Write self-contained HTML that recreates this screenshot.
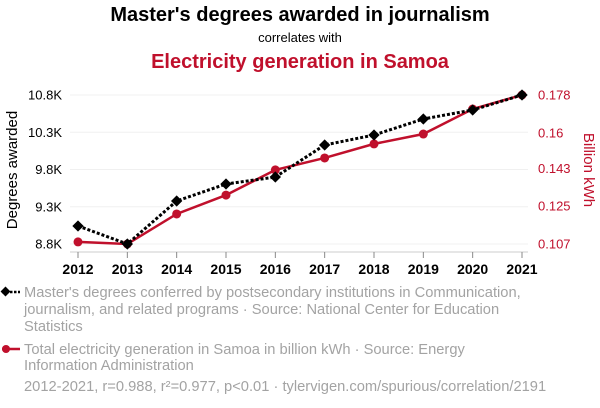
<!DOCTYPE html>
<html><head><meta charset="utf-8"><style>
body{margin:0;background:#fff;font-family:"Liberation Sans",Arial,sans-serif;}
svg{display:block}
</style></head><body>
<svg id="c" width="600" height="408">
<text x="300" y="21" text-anchor="middle" font-size="20" font-weight="bold" fill="#000">Master's degrees awarded in journalism</text>
<text x="300" y="42" text-anchor="middle" font-size="13" fill="#000">correlates with</text>
<text x="300" y="68" text-anchor="middle" font-size="20" font-weight="bold" fill="#c0102c">Electricity generation in Samoa</text>
<text transform="translate(17,170) rotate(-90)" text-anchor="middle" font-size="15" fill="#000">Degrees awarded</text>
<text transform="translate(584,170) rotate(90)" text-anchor="middle" font-size="15" fill="#c0102c">Billion kWh</text>
<g id="grid"></g><g id="axes"></g><g id="series"></g>
<g>
<line x1="2" y1="292" x2="20" y2="292" stroke="#000" stroke-width="2.5" stroke-dasharray="2.5,1.5"/>
<rect x="2" y="288" width="7" height="7" transform="rotate(45 5.5 291.5)" fill="#000"/>
<text font-size="14.7" fill="#a3a3a3"><tspan x="24" y="297">Master's degrees conferred by postsecondary institutions in Communication,</tspan><tspan x="24" y="314">journalism, and related programs · Source: National Center for Education</tspan><tspan x="24" y="331">Statistics</tspan></text>
</g>
<g>
<line x1="2" y1="349" x2="20" y2="349" stroke="#c0102c" stroke-width="2.5"/>
<circle cx="6" cy="349" r="4" fill="#c0102c"/>
<text font-size="14.7" fill="#a3a3a3"><tspan x="24" y="354">Total electricity generation in Samoa in billion kWh · Source: Energy</tspan><tspan x="24" y="370">Information Administration</tspan></text>
</g>
<text x="24" y="391" font-size="14.7" fill="#a3a3a3">2012-2021, r=0.988, r²=0.977, p&lt;0.01 · tylervigen.com/spurious/correlation/2191</text>
</svg>
<script>
const years=[2012,2013,2014,2015,2016,2017,2018,2019,2020,2021];
const degrees=[9042,8800,9377,9605,9699,10129,10263,10478,10599,10800];
const electricity=[0.108,0.107,0.1213,0.1303,0.1423,0.148,0.1547,0.1594,0.1713,0.178];
const leftTicks=[8800,9300,9800,10300,10800];
const leftTickLabels=["8.8K","9.3K","9.8K","10.3K","10.8K"];
const rightTicks=[0.107,0.125,0.143,0.16,0.178];
const rightTickLabels=["0.107","0.125","0.143","0.16","0.178"];
const NS="http://www.w3.org/2000/svg";
const x=y=>78+(y-2012)*(522-78)/9;
const yL=v=>244-(v-8800)*(149/2000);
const yR=v=>244-(v-0.107)*(149/0.071);
function mk(t,a,p){const e=document.createElementNS(NS,t);for(const k in a)e.setAttribute(k,a[k]);p.appendChild(e);return e;}
const grid=document.getElementById('grid'),axes=document.getElementById('axes'),ser=document.getElementById('series');
leftTicks.forEach((v,i)=>{
 const g=mk('line',{x1:70,x2:528,y1:yL(v),y2:yL(v),stroke:'#f0f0f0','stroke-width':1},grid);
 
 
 const t=mk('text',{x:62,y:yL(v)+4.5,'text-anchor':'end','font-size':13,fill:'#000'},axes);t.textContent=leftTickLabels[i];
 
 
});
rightTicks.forEach((v,i)=>{
 const t=mk('text',{x:538,y:yR(v)+4.5,'font-size':13,fill:'#c0102c'},axes);t.textContent=rightTickLabels[i];
 
 
});
const ax=mk('line',{x1:70,x2:528,y1:252,y2:252,stroke:'#ccc'},axes);


years.forEach(yr=>{
 mk('line',{x1:x(yr),x2:x(yr),y1:252,y2:258,stroke:'#888'},axes);
 const t=mk('text',{x:x(yr),y:274,'text-anchor':'middle','font-size':14,'font-weight':'bold',fill:'#000'},axes);t.textContent=yr;
 
 
});
const rl=mk('polyline',{points:years.map((yr,i)=>x(yr)+','+yR(electricity[i])).join(' '),fill:'none',stroke:'#c0102c','stroke-width':2.5},ser);


years.forEach((yr,i)=>{const c=mk('circle',{cx:x(yr),cy:yR(electricity[i]),r:4.5,fill:'#c0102c'},ser);
 
 });
const bl=mk('polyline',{points:years.map((yr,i)=>x(yr)+','+yL(degrees[i])).join(' '),fill:'none',stroke:'#000','stroke-width':3,'stroke-dasharray':'3,2'},ser);


years.forEach((yr,i)=>{const cx=x(yr),cy=yL(degrees[i]);
 const d=mk('rect',{x:cx-4,y:cy-4,width:8,height:8,transform:`rotate(45 ${cx} ${cy})`,fill:'#000'},ser);
 
 });
</script>
</body></html>
